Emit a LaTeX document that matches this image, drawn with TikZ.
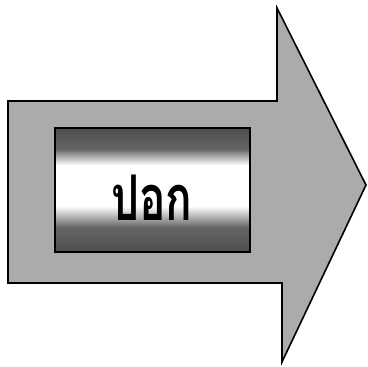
\documentclass[tikz,border=0pt]{standalone}
\usepackage{fontspec}
\usepackage{graphicx}
\newfontfamily\thaifont[Script=Thai]{Loma}
\pgfdeclareverticalshading{boxshade}{100bp}{color(0bp)=(black!70); color(25bp)=(black!70); color(35bp)=(black!60); color(43.5bp)=(white); color(60bp)=(white); color(66.5bp)=(black!60); color(75bp)=(black!70); color(100bp)=(black!70)}
\begin{document}
\begin{tikzpicture}[x=1pt,y=-1pt,
  arrowbody/.style={draw=black,line width=1.6pt,fill=black!33,line join=miter},
  labelbox/.style={draw=black,line width=1.6pt,minimum width=195pt,minimum height=124pt,inner sep=0pt,
    shading=boxshade},
  labeltext/.style={inner sep=0pt,font=\thaifont\bfseries\fontsize{42}{42}\selectfont}]
\useasboundingbox (0,0) rectangle (368,367);
\draw[arrowbody] (8,101) -- (277,101) -- (277,8) -- (366,185) -- (282,362) -- (282,283) -- (8,283) -- cycle;
\node[labelbox] (box) at (152.5,190) {};
\node[labeltext] (txt) at (152,198) {\scalebox{1.05}[1.5]{ปอก}};
\end{tikzpicture}
\end{document}
